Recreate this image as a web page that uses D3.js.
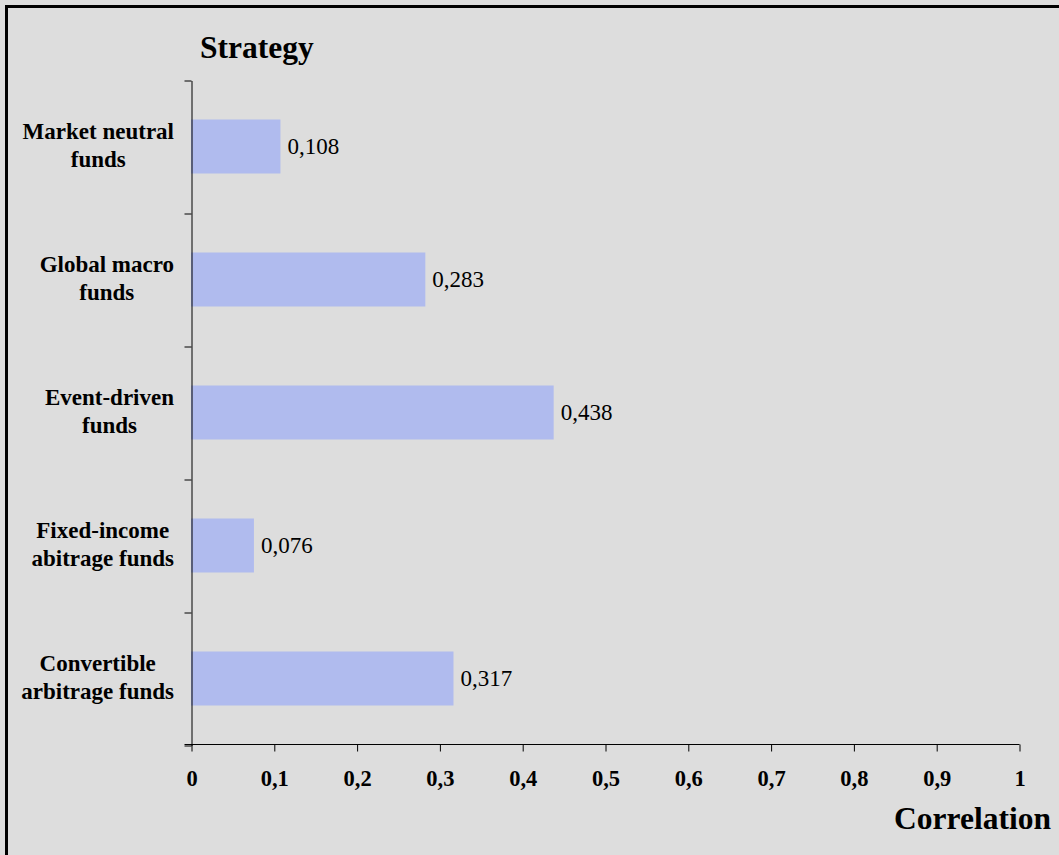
<!DOCTYPE html>
<html>
<head>
<meta charset="utf-8">
<script src="https://cdn.jsdelivr.net/npm/d3@7"></script>
<style>
  html, body { margin: 0; padding: 0; background: #dddddd; }
  svg { display: block; }
  text { font-family: "Liberation Serif", "Times New Roman", serif; fill: #000; }
</style>
</head>
<body>
<svg id="chart" width="1059" height="855"></svg>
<script>
// Correlation of hedge fund strategies
const categories = [
  ["Market neutral", "funds"],
  ["Global macro", "funds"],
  ["Event-driven", "funds"],
  ["Fixed-income", "abitrage funds"],
  ["Convertible", "arbitrage funds"]
];
const values = [0.108, 0.283, 0.438, 0.076, 0.317];
const xTicks = [0, 0.1, 0.2, 0.3, 0.4, 0.5, 0.6, 0.7, 0.8, 0.9, 1];

const svg = d3.select("#chart");
const W = 1059, H = 855;

svg.append("rect").attr("width", W).attr("height", H).attr("fill", "#dddddd");
// frame (only top and left edges fall within the view)
svg.append("rect")
  .attr("x", 6.5).attr("y", 6.5)
  .attr("width", W + 20).attr("height", H + 20)
  .attr("fill", "none").attr("stroke", "#000").attr("stroke-width", 3);

const plot = { left: 191, right: 1019, top: 80, bottom: 745 };

const x = d3.scaleLinear().domain([0, 1]).range([plot.left, plot.right]);
const keys = categories.map((c, i) => i);
const y = d3.scaleBand().domain(keys)
  .range([plot.top, plot.bottom])
  .paddingInner(0.594).paddingOuter(0.297);
// boundaries between category bands
const yEdge = d3.scaleLinear().domain([0, categories.length]).range([plot.top, plot.bottom]);

const fmt = v => String(v).replace(".", ",");

// bars
svg.append("g").selectAll("rect")
  .data(values)
  .join("rect")
  .attr("x", x(0))
  .attr("y", (d, i) => y(i))
  .attr("width", d => x(d) - x(0))
  .attr("height", y.bandwidth())
  .attr("fill", "#b0bbee");

// value labels
svg.append("g").selectAll("text")
  .data(values)
  .join("text")
  .attr("x", d => x(d) + 7)
  .attr("y", (d, i) => y(i) + y.bandwidth() / 2 + 7)
  .attr("font-size", "23px")
  .text(d => fmt(d));

// y axis with ticks at band edges
const yAxis = d3.axisLeft(yEdge)
  .tickValues(d3.range(categories.length + 1))
  .tickFormat("")
  .tickSize(7)
  .tickSizeOuter(0);
const gy = svg.append("g").attr("transform", `translate(${plot.left + 0.5},0.5)`).call(yAxis);
gy.selectAll("line, path").attr("stroke", "#000");

// x axis
const xAxis = d3.axisBottom(x)
  .tickValues(xTicks)
  .tickFormat(fmt)
  .tickSize(7)
  .tickSizeOuter(0);
const gx = svg.append("g").attr("transform", `translate(0.5,${plot.bottom - 0.5})`).call(xAxis);
gx.select(".domain").attr("d", `M${plot.left - 7},0H${plot.right}`);
gx.selectAll("line, path").attr("stroke", "#000");
gx.selectAll("text")
  .attr("font-family", "Liberation Serif, Times New Roman, serif")
  .attr("font-size", "22.5px")
  .attr("font-weight", "bold")
  .attr("y", 0).attr("dy", null)
  .attr("transform", "translate(0,41.5)");

// category labels: lines centred on each other, block right-aligned
const catG = svg.append("g");
categories.forEach((lines, i) => {
  const g = catG.append("g");
  const cy = y(i) + y.bandwidth() / 2;
  const texts = lines.map((t, k) => g.append("text")
    .attr("font-size", "23px")
    .attr("font-weight", "bold")
    .attr("text-anchor", "middle")
    .attr("y", cy - 8 + k * 28.5)
    .text(t));
  const maxW = d3.max(texts, t => t.node().getComputedTextLength());
  texts.forEach(t => t.attr("x", 174 - maxW / 2));
});

// axis titles
svg.append("text")
  .attr("x", 200).attr("y", 58)
  .attr("font-size", "31.5px").attr("font-weight", "bold")
  .text("Strategy");
svg.append("text")
  .attr("x", 1051).attr("y", 829)
  .attr("text-anchor", "end")
  .attr("font-size", "31.5px").attr("font-weight", "bold")
  .text("Correlation");
</script>
</body>
</html>
